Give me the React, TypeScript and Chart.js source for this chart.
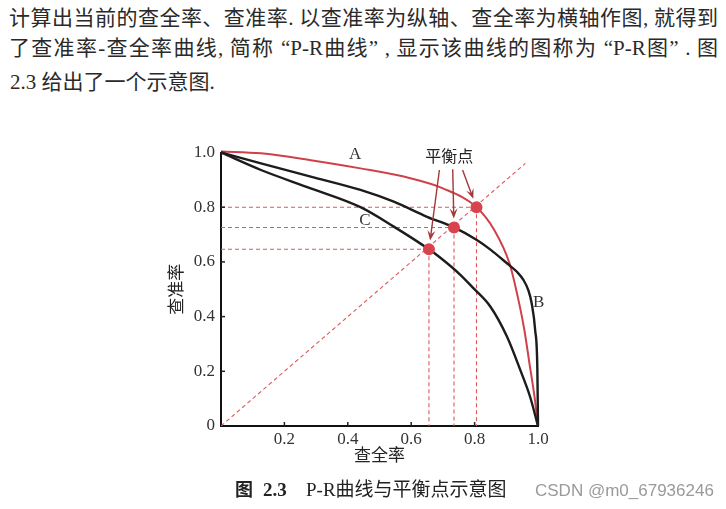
import React, { useEffect, useRef } from 'react';
import { Chart, registerables } from 'chart.js';

Chart.register(...registerables);

// ---- data ----
const curveAX = [0, 0.126, 0.283, 0.44, 0.597, 0.70, 0.806, 0.862, 0.91, 0.936, 0.957, 0.973, 0.989, 1.0];
const curveAY = [1.004, 0.997, 0.972, 0.942, 0.906, 0.869, 0.80, 0.717, 0.595, 0.473, 0.351, 0.229, 0.107, 0.0];
const curveBX = [0, 0.126, 0.283, 0.44, 0.545, 0.65, 0.735, 0.807, 0.85, 0.902, 0.935, 0.954, 0.97, 0.98, 0.991, 0.998, 1.0];
const curveBY = [1.0, 0.96, 0.912, 0.863, 0.82, 0.765, 0.726, 0.68, 0.645, 0.595, 0.562, 0.534, 0.495, 0.449, 0.351, 0.205, 0.0];
const curveCX = [0, 0.126, 0.283, 0.44, 0.545, 0.656, 0.69, 0.755, 0.797, 0.85, 0.902, 0.944, 0.975, 1.0];
const curveCY = [1.0, 0.936, 0.869, 0.80, 0.729, 0.646, 0.617, 0.553, 0.503, 0.436, 0.327, 0.205, 0.107, 0.0];
const balanceX = [0.656, 0.735, 0.806];
const balanceY = [0.646, 0.726, 0.80];
const diagonalX = [0, 0.96];
const diagonalY = [0, 0.96];

const xTickValues = [0, 0.2, 0.4, 0.6, 0.8, 1.0];
const xTickLabels = ['', '0.2', '0.4', '0.6', '0.8', '1.0'];
const yTickValues = [0, 0.2, 0.4, 0.6, 0.8, 1.0];
const yTickLabels = ['0', '0.2', '0.4', '0.6', '0.8', '1.0'];

const curveNames = ['A', 'B', 'C'];
const curveNameX = [0.423, 1.002, 0.454];
const curveNameY = [0.991, 0.451, 0.753];
const balanceText = '平衡点';
const balanceTextX = 0.72;
const balanceTextY = 0.987;
const arrowStartX = [0.689, 0.731, 0.762];
const arrowStartY = [0.936, 0.939, 0.936];

const xTitle = '查全率';
const yTitle = '查准率';

const paraLine1 = '计算出当前的查全率、查准率. 以查准率为纵轴、查全率为横轴作图, 就得到';
const paraLine2 = '了查准率-查全率曲线, 简称 “P-R曲线” , 显示该曲线的图称为 “P-R图” . 图';
const paraLine3 = '2.3 给出了一个示意图.';
const captionFig = '图';
const captionNum = '2.3';
const captionText = 'P-R曲线与平衡点示意图';
const watermark = 'CSDN @m0_67936246';

const toPts = (xs: number[], ys: number[]) => xs.map((v, i) => ({ x: v, y: ys[i] }));

const DASH_COLOR = '#e0575a';
const RED = '#d0404a';
const BLACK = '#1c1c1c';
const DOT = '#d8434e';
const ARROW = '#a23838';
const SERIF = '"Liberation Serif", "DejaVu Serif", serif';
const CJK = '"Noto Sans CJK SC", sans-serif';

const overlayPlugin = {
  id: 'overlay',
  afterDatasetsDraw(chart: any) {
    const { ctx, chartArea } = chart;
    const xs = chart.scales.x;
    const ys = chart.scales.y;
    ctx.save();
    // inner tick marks
    ctx.strokeStyle = '#222';
    ctx.lineWidth = 1.5;
    xTickValues.forEach((v) => {
      if (v === 0) return;
      const px = xs.getPixelForValue(v);
      ctx.beginPath();
      ctx.moveTo(px, chartArea.bottom);
      ctx.lineTo(px, chartArea.bottom - 4);
      ctx.stroke();
    });
    yTickValues.forEach((v) => {
      if (v === 0) return;
      const py = ys.getPixelForValue(v);
      ctx.beginPath();
      ctx.moveTo(chartArea.left, py);
      ctx.lineTo(chartArea.left + 4, py);
      ctx.stroke();
    });
    // curve names
    ctx.fillStyle = '#333';
    ctx.font = `17px ${SERIF}`;
    ctx.textAlign = 'center';
    ctx.textBaseline = 'middle';
    curveNames.forEach((n, i) => {
      ctx.fillText(n, xs.getPixelForValue(curveNameX[i]), ys.getPixelForValue(curveNameY[i]));
    });
    // balance label
    ctx.fillStyle = '#222';
    ctx.font = `16px ${CJK}`;
    ctx.fillText(balanceText, xs.getPixelForValue(balanceTextX), ys.getPixelForValue(balanceTextY));
    // arrows
    ctx.strokeStyle = ARROW;
    ctx.fillStyle = ARROW;
    ctx.lineWidth = 1.4;
    balanceX.forEach((bx, i) => {
      const sx = xs.getPixelForValue(arrowStartX[i]);
      const sy = ys.getPixelForValue(arrowStartY[i]);
      const dx0 = xs.getPixelForValue(bx);
      const dy0 = ys.getPixelForValue(balanceY[i]);
      const vx = dx0 - sx;
      const vy = dy0 - sy;
      const len = Math.hypot(vx, vy);
      const ux = vx / len;
      const uy = vy / len;
      const tx = dx0 - ux * 9;
      const ty = dy0 - uy * 9;
      const hl = 10;
      const hw = 4;
      ctx.beginPath();
      ctx.moveTo(sx, sy);
      ctx.lineTo(tx - ux * hl * 0.6, ty - uy * hl * 0.6);
      ctx.stroke();
      ctx.beginPath();
      ctx.moveTo(tx, ty);
      ctx.lineTo(tx - ux * hl - uy * hw, ty - uy * hl + ux * hw);
      ctx.lineTo(tx - ux * hl * 0.6, ty - uy * hl * 0.6);
      ctx.lineTo(tx - ux * hl + uy * hw, ty - uy * hl - ux * hw);
      ctx.closePath();
      ctx.fill();
    });
    ctx.restore();
  },
};

function PRChart() {
  const ref = useRef<HTMLCanvasElement | null>(null);
  useEffect(() => {
    if (!ref.current) return;
    const dashed = (pts: { x: number; y: number }[]) => ({
      data: pts,
      borderColor: DASH_COLOR,
      borderWidth: 1.1,
      borderDash: [4, 3],
      pointRadius: 0,
      order: 5,
    });
    const datasets: any[] = [];
    datasets.push(dashed(toPts(diagonalX, diagonalY)));
    balanceX.forEach((bx, i) => {
      datasets.push(dashed([{ x: 0, y: balanceY[i] }, { x: bx, y: balanceY[i] }]));
      datasets.push(dashed([{ x: bx, y: balanceY[i] }, { x: bx, y: 0 }]));
    });
    const curve = (pts: any[], color: string, w: number) => ({
      data: pts,
      borderColor: color,
      borderWidth: w,
      pointRadius: 0,
      cubicInterpolationMode: 'monotone',
      clip: false,
      order: 3,
    });
    datasets.push(curve(toPts(curveCX, curveCY), BLACK, 2.4));
    datasets.push(curve(toPts(curveBX, curveBY), BLACK, 2.4));
    datasets.push(curve(toPts(curveAX, curveAY), RED, 2));
    datasets.push({
      data: toPts(balanceX, balanceY),
      showLine: false,
      pointRadius: 6,
      pointBackgroundColor: DOT,
      pointBorderColor: DOT,
      pointBorderWidth: 0,
      order: 1,
    });

    const chart = new Chart(ref.current, {
      type: 'line',
      data: { datasets },
      options: {
        animation: false,
        responsive: false,
        events: [],
        layout: { padding: { left: 151, top: 152.5, right: 188, bottom: 43 } },
        plugins: { legend: { display: false }, tooltip: { enabled: false } },
        scales: {
          x: {
            type: 'linear',
            position: 'bottom',
            min: 0,
            max: 1,
            grid: { display: false, drawTicks: false },
            border: { display: true, color: '#111', width: 2 },
            afterBuildTicks: (axis: any) => {
              axis.ticks = xTickValues.map((v) => ({ value: v }));
            },
            afterFit: (axis: any) => {
              axis.height = 40;
            },
            ticks: {
              color: '#333',
              font: { family: SERIF, size: 17 },
              padding: 3,
              maxRotation: 0,
              autoSkip: false,
              callback: (_v: any, i: number) => xTickLabels[i],
            },
            title: {
              display: true,
              text: xTitle,
              color: '#222',
              font: { family: CJK, size: 17 },
              padding: { top: 0, bottom: 1 },
            },
          },
          y: {
            type: 'linear',
            position: 'left',
            min: 0,
            max: 1,
            grid: { display: false, drawTicks: false },
            border: { display: true, color: '#111', width: 2 },
            afterBuildTicks: (axis: any) => {
              axis.ticks = yTickValues.map((v) => ({ value: v }));
            },
            afterFit: (axis: any) => {
              axis.width = 70;
            },
            ticks: {
              color: '#333',
              font: { family: SERIF, size: 17 },
              padding: 6,
              autoSkip: false,
              callback: (_v: any, i: number) => yTickLabels[i],
            },
            title: {
              display: true,
              text: yTitle,
              color: '#222',
              font: { family: CJK, size: 17 },
              padding: { top: 14, bottom: 0 },
            },
          },
        },
      },
      plugins: [overlayPlugin],
    } as any);
    return () => chart.destroy();
  }, []);
  return (
    <canvas
      ref={ref}
      width={726}
      height={509}
      style={{ position: 'absolute', left: 0, top: 0, width: 726, height: 509 }}
    />
  );
}

const paraStyle: React.CSSProperties = {
  position: 'absolute',
  left: 9,
  width: 709,
  fontSize: 21,
  lineHeight: '26px',
  height: 26,
  fontFamily: `"Liberation Serif", "Noto Sans CJK SC", serif`,
  color: '#2a2a2a',
  whiteSpace: 'nowrap',
};

const capStyle: React.CSSProperties = {
  position: 'absolute',
  top: 478,
  fontSize: 19,
  lineHeight: '24px',
  fontFamily: `"Liberation Serif", "Noto Sans CJK SC", serif`,
  color: '#222',
  whiteSpace: 'nowrap',
};

export default function App() {
  return (
    <div
      style={{
        position: 'fixed',
        left: 0,
        top: 0,
        width: 726,
        height: 509,
        background: '#ffffff',
        overflow: 'hidden',
      }}
    >
      <div style={{ ...paraStyle, top: 5, textAlign: 'justify', textAlignLast: 'justify', whiteSpace: 'normal' }}>
        {paraLine1}
      </div>
      <div style={{ ...paraStyle, top: 35, textAlign: 'justify', textAlignLast: 'justify', whiteSpace: 'normal' }}>
        {paraLine2}
      </div>
      <div style={{ ...paraStyle, top: 69, left: 10 }}>{paraLine3}</div>
      <PRChart />
      <div style={{ ...capStyle, left: 235, fontWeight: 'bold', fontSize: 18 }}>{captionFig}</div>
      <div style={{ ...capStyle, left: 263, fontWeight: 'bold' }}>{captionNum}</div>
      <div style={{ ...capStyle, left: 306 }}>{captionText}</div>
      <div
        style={{
          position: 'absolute',
          left: 535,
          top: 480,
          fontSize: 17,
          lineHeight: '22px',
          fontFamily: `"Liberation Sans", Arial, sans-serif`,
          color: '#9a9a9a',
          whiteSpace: 'nowrap',
        }}
      >
        {watermark}
      </div>
    </div>
  );
}
